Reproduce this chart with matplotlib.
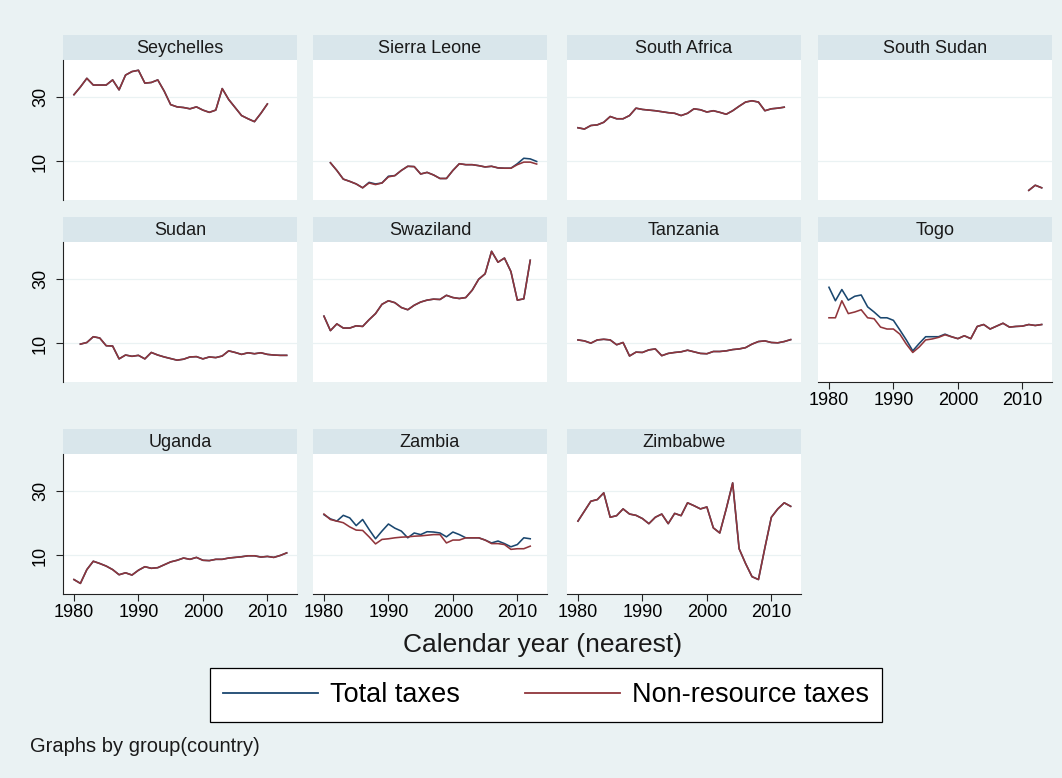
import matplotlib.pyplot as plt
from matplotlib.lines import Line2D

plt.rcParams['font.family'] = ['Liberation Sans', 'DejaVu Sans']

# tax revenue, % of GDP, by country (series start year + yearly values)
seychelles_start = 1980
seychelles_nonres = [30.8, 33.2, 35.9, 33.8, 33.8, 33.8, 35.4, 32.3, 36.9, 38.0,
                     38.4, 34.4, 34.6, 35.4, 31.9, 27.7, 27.0, 26.8, 26.4, 27.0,
                     26.0, 25.3, 26.0, 32.7, 29.3, 26.8, 24.3, 23.3, 22.4, 25.0,
                     27.9]
seychelles_total = list(seychelles_nonres)

sierra_start = 1981
sierra_nonres = [9.6, 7.2, 4.5, 3.8, 3.0, 1.8, 3.3, 2.8, 3.3, 5.2,
                 5.6, 7.2, 8.5, 8.4, 6.1, 6.6, 5.8, 4.7, 4.7, 7.2,
                 9.3, 9.0, 9.0, 8.7, 8.3, 8.5, 8.0, 7.9, 7.9, 9.0,
                 9.8, 9.8, 9.2]
sierra_total = [9.6, 7.2, 4.5, 3.8, 3.0, 1.8, 3.5, 3.0, 3.3, 5.4,
                5.6, 7.2, 8.5, 8.4, 6.1, 6.6, 5.8, 4.7, 4.7, 7.2,
                9.3, 9.0, 9.0, 8.7, 8.3, 8.5, 8.0, 7.9, 7.9, 9.3,
                11.0, 10.8, 10.0]

safrica_start = 1980
safrica_nonres = [20.5, 20.1, 21.2, 21.4, 22.2, 24.0, 23.3, 23.3, 24.3, 26.6,
                  26.2, 26.0, 25.8, 25.5, 25.2, 25.0, 24.3, 25.0, 26.4, 26.1,
                  25.4, 25.8, 25.3, 24.7, 25.8, 27.2, 28.5, 28.9, 28.5, 25.8,
                  26.4, 26.6, 26.9]
safrica_total = list(safrica_nonres)

ssudan_start = 2011
ssudan_nonres = [1.0, 2.6, 1.8]
ssudan_total = list(ssudan_nonres)

sudan_start = 1981
sudan_nonres = [9.8, 10.3, 12.1, 11.7, 9.3, 9.2, 5.2, 6.4, 6.0, 6.3,
                5.2, 7.2, 6.4, 5.8, 5.3, 4.8, 5.1, 5.8, 5.9, 5.2,
                5.8, 5.6, 6.1, 7.7, 7.2, 6.6, 7.1, 6.8, 7.1, 6.6,
                6.4, 6.3, 6.3]
sudan_total = list(sudan_nonres)

swazi_start = 1980
swazi_nonres = [18.5, 14.0, 16.1, 14.8, 14.8, 15.5, 15.3, 17.4, 19.3, 22.2,
                23.3, 22.7, 21.2, 20.5, 21.9, 22.9, 23.5, 23.8, 23.7, 25.0,
                24.3, 24.0, 24.3, 26.6, 30.0, 31.7, 38.7, 35.3, 36.6, 32.4,
                23.5, 23.9, 35.9]
swazi_total = list(swazi_nonres)

tanz_start = 1980
tanz_nonres = [11.1, 10.8, 10.1, 11.1, 11.3, 11.1, 9.6, 10.3, 6.1, 7.3,
               7.2, 8.0, 8.3, 6.2, 6.9, 7.2, 7.4, 7.9, 7.4, 6.9,
               6.8, 7.5, 7.5, 7.7, 8.1, 8.3, 8.7, 9.8, 10.6, 10.8,
               10.3, 10.2, 10.6, 11.2]
tanz_total = list(tanz_nonres)

togo_start = 1980
togo_nonres = [18.0, 18.0, 23.3, 19.3, 19.8, 20.5, 18.0, 17.7, 15.1, 14.5,
               14.5, 12.9, 9.8, 7.2, 8.9, 11.1, 11.4, 11.9, 12.7, 12.1,
               11.5, 12.4, 11.5, 15.3, 15.9, 14.5, 15.4, 16.3, 15.1, 15.3,
               15.4, 15.9, 15.6, 15.9]
togo_total = [27.5, 23.3, 26.8, 23.5, 24.7, 25.1, 21.4, 19.8, 18.0, 18.0,
              17.2, 14.2, 11.1, 7.7, 10.0, 12.1, 12.1, 12.1, 12.9, 12.1,
              11.5, 12.4, 11.5, 15.3, 15.9, 14.5, 15.4, 16.3, 15.1, 15.3,
              15.4, 15.9, 15.6, 15.9]

uganda_start = 1980
uganda_nonres = [2.5, 1.3, 5.6, 8.2, 7.5, 6.7, 5.6, 4.0, 4.6, 3.9,
                 5.4, 6.5, 6.0, 6.2, 7.1, 8.0, 8.5, 9.2, 8.8, 9.4,
                 8.5, 8.4, 8.8, 8.8, 9.2, 9.4, 9.6, 9.9, 9.9, 9.5,
                 9.7, 9.4, 10.0, 10.8]
uganda_total = list(uganda_nonres)

zambia_start = 1980
zambia_nonres = [22.9, 21.2, 20.7, 20.2, 18.9, 17.9, 17.8, 15.8, 13.6, 15.0,
                 15.2, 15.5, 15.7, 15.8, 16.0, 16.1, 16.3, 16.5, 16.5, 13.9,
                 14.8, 14.8, 15.5, 15.5, 15.5, 14.8, 13.7, 13.7, 13.4, 11.9,
                 12.1, 12.1, 12.9]
zambia_total = [22.7, 21.4, 20.7, 22.5, 21.7, 19.3, 21.2, 18.1, 15.2, 17.6,
                19.8, 18.5, 17.6, 15.5, 17.0, 16.5, 17.4, 17.3, 17.0, 15.8,
                17.3, 16.5, 15.5, 15.5, 15.5, 14.8, 13.9, 14.5, 13.7, 12.7,
                13.4, 15.5, 15.2]

zimb_start = 1980
zimb_nonres = [20.7, 23.8, 26.9, 27.4, 29.5, 21.9, 22.4, 24.5, 22.9, 22.5,
               21.5, 19.9, 21.9, 22.9, 19.9, 23.1, 22.4, 26.4, 25.5, 24.5,
               25.1, 18.6, 17.0, 24.5, 32.6, 12.1, 7.5, 3.4, 2.5, 12.4,
               21.9, 24.5, 26.4, 25.3]
zimb_total = list(zimb_nonres)

panels = [
    ('Seychelles', seychelles_start, seychelles_total, seychelles_nonres),
    ('Sierra Leone', sierra_start, sierra_total, sierra_nonres),
    ('South Africa', safrica_start, safrica_total, safrica_nonres),
    ('South Sudan', ssudan_start, ssudan_total, ssudan_nonres),
    ('Sudan', sudan_start, sudan_total, sudan_nonres),
    ('Swaziland', swazi_start, swazi_total, swazi_nonres),
    ('Tanzania', tanz_start, tanz_total, tanz_nonres),
    ('Togo', togo_start, togo_total, togo_nonres),
    ('Uganda', uganda_start, uganda_total, uganda_nonres),
    ('Zambia', zambia_start, zambia_total, zambia_nonres),
    ('Zimbabwe', zimb_start, zimb_total, zimb_nonres),
]

year_ticks = [1980, 1990, 2000, 2010]
value_ticks = [10, 30]

BG = '#EAF2F3'
STRIP = '#D9E6EB'
NAVY = '#1A476F'
MAROON = '#90353B'

W, H = 1062, 778
fig = plt.figure(figsize=(W / 100, H / 100), dpi=100, facecolor=BG)


def rect(x, y, w, h):
    return [x / W, 1 - (y + h) / H, w / W, h / H]


col_left = [63, 313, 567, 818]
strip_top = [35, 217, 429]
panel_w, strip_h, plot_h = 234, 25, 140

for i, (name, start, total, nonres) in enumerate(panels):
    r, c = divmod(i, 4)
    top = strip_top[r]

    # title strip
    sax = fig.add_axes(rect(col_left[c], top, panel_w, strip_h))
    sax.set_facecolor(STRIP)
    sax.set_xticks([])
    sax.set_yticks([])
    for s in sax.spines.values():
        s.set_visible(False)
    sax.text(0.5, 0.45, name, ha='center', va='center', fontsize=13,
             color='#1a1a1a', transform=sax.transAxes)

    ax = fig.add_axes(rect(col_left[c], top + strip_h, panel_w, plot_h))
    ax.set_facecolor('white')
    years = list(range(start, start + len(nonres)))
    for v in value_ticks:
        ax.axhline(v, color=BG, lw=0.9, zorder=0)
    ax.plot(years, total, color=NAVY, lw=1.15, zorder=2)
    ax.plot(years, nonres, color=MAROON, lw=1.15, zorder=3)
    ax.set_xlim(1978.3, 2014.6)
    ax.set_ylim(-2, 41.6)

    for s in ax.spines.values():
        s.set_visible(False)

    if c == 0:
        ax.spines['left'].set_visible(True)
        ax.spines['left'].set_color('#222222')
        ax.set_yticks(value_ticks)
        ax.set_yticklabels([str(v) for v in value_ticks], rotation=90,
                           va='center', fontsize=13)
        ax.tick_params(axis='y', length=5, width=0.8, color='#222222', pad=5)
    else:
        ax.set_yticks([])

    # x axis only under the last panel of each column
    if r == 2 or (r == 1 and c == 3):
        ax.spines['bottom'].set_visible(True)
        ax.spines['bottom'].set_color('#222222')
        ax.set_xticks(year_ticks)
        ax.set_xticklabels([str(y) for y in year_ticks], fontsize=13)
        ax.tick_params(axis='x', length=5, width=0.8, color='#222222', pad=2)
    else:
        ax.set_xticks([])

fig.text(543 / W, 1 - 645 / H, 'Calendar year (nearest)', ha='center',
         va='center', fontsize=19, color='#1a1a1a')

handles = [Line2D([], [], color=NAVY, lw=1.3),
           Line2D([], [], color=MAROON, lw=1.3)]
leg = fig.legend(handles, ['Total taxes', 'Non-resource taxes'], loc='center',
                 bbox_to_anchor=(546 / W, 1 - 695 / H), ncol=2, fontsize=19.5,
                 frameon=True, fancybox=False, edgecolor='black',
                 framealpha=1, handlelength=3.5, columnspacing=2.4,
                 handletextpad=0.45, borderpad=0.5)
leg.get_frame().set_linewidth(0.9)

fig.text(30 / W, 1 - 746 / H, 'Graphs by group(country)', ha='left',
         va='center', fontsize=14.5, color='#1a1a1a')

fig.savefig('out.png', dpi=100, facecolor=BG)
